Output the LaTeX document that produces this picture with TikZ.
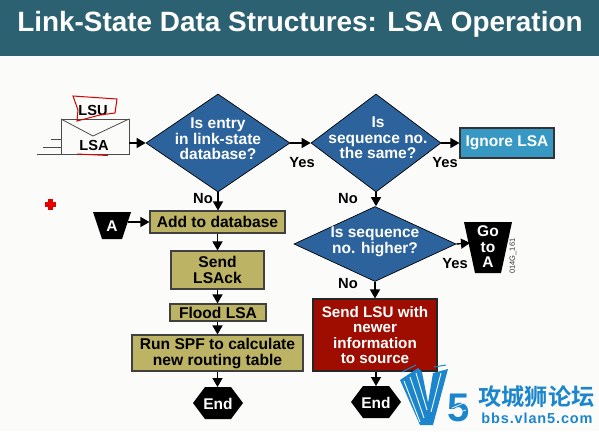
\documentclass[tikz,border=0pt]{standalone}
\usepackage{fontspec}
\setmainfont{Liberation Sans}
\newfontfamily\cjk{Noto Sans CJK SC}[BoldFont=* Bold]
\usetikzlibrary{shapes.geometric,arrows.meta}
\definecolor{bluefill}{HTML}{2D639C}
\definecolor{oliv}{HTML}{BDB364}
\definecolor{wm}{HTML}{1C86CC}
\definecolor{pagebg}{HTML}{FBFBFA}
\definecolor{hdr}{HTML}{2C6172}
\definecolor{ignc}{HTML}{3798C4}
\definecolor{redc}{HTML}{9E0D00}
\tikzset{
 x=1pt,y=-1pt,
 flow/.style={-{Triangle[length=9pt,width=10pt]},line width=1.4pt,draw=black},
 ques/.style={diamond,draw=black,line width=.7pt,fill=bluefill,inner sep=0pt},
 qtext/.style={text=white,font=\fontsize{15.5}{15.5}\selectfont\bfseries,align=center},
 oilbox/.style={rectangle,draw=black!75,line width=1.1pt,fill=oliv,inner sep=0pt,font=\fontsize{15.6}{16}\selectfont\bfseries,align=center,text=black},
 lab/.style={font=\fontsize{14.7}{15}\selectfont\bfseries,text=black,inner sep=0pt},
 hexa/.style={fill=black},
 wht/.style={text=white,font=\fontsize{15.5}{15.5}\selectfont\bfseries,align=center,inner sep=0pt},
 stripe/.style={draw=pagebg,line width=.9pt},
}
\begin{document}
\begin{tikzpicture}
\useasboundingbox (0,0) rectangle (599,431);
\fill[pagebg] (0,0) rectangle (599,431);
\fill[hdr] (0,0) rectangle (599,56);
\node[text=white,font=\fontsize{27.9}{30}\selectfont\bfseries,inner sep=0pt] (title) at (300,24) {Link-State Data Structures: LSA Operation};
% envelope
\draw[line width=.8pt,draw=black!70] (61,119) rectangle (129,154);
\draw[line width=.8pt,draw=black!70] (61,119) -- (93,136) -- (129,119);
\coordinate (envR) at (129,143);
\coordinate (s1) at (51,139); \coordinate (e1) at (61,139);
\coordinate (s2) at (43,147); \coordinate (e2) at (61,147);
\coordinate (s3) at (37,154); \coordinate (e3) at (61,154);
\draw[line width=.8pt,draw=black!70] (s1)--(e1) (s2)--(e2) (s3)--(e3);
\node[lab,font=\fontsize{14.6}{15}\selectfont\bfseries] (lsu) at (93,110) {LSU};
\node[lab,font=\fontsize{14.6}{15}\selectfont\bfseries] (lsa) at (94,145) {LSA};
\draw[red!85!black,line width=1pt] (73,96) -- (117,99) -- (115,113) -- (100,115) -- (77,121) -- (78,110) -- cycle;
\draw[red!85!black,line width=1pt] (77,154) -- (108,155.5);
% red cross
\draw[red!90!black,line width=5pt] (44.5,204) -- (55.5,204) (50,198.5) -- (50,209.5);
% diamonds
\node[ques,minimum width=144pt,minimum height=98pt,aspect=1.469] (d1) at (218,143) {};
\node[qtext] (d1t) at (218,139) {Is entry\\in link-state\\database?};
\node[ques,minimum width=130pt,minimum height=98pt,aspect=1.327] (d2) at (376,143) {};
\node[qtext] (d2t) at (378,138) {Is\\sequence no.\\the same?};
\node[ques,minimum width=162pt,minimum height=75pt,aspect=2.16] (d3) at (375,244) {};
\node[qtext] (d3t) at (375,242) {Is sequence\\no. higher?};
% boxes
\node[rectangle,draw=black!80,line width=1.1pt,fill=ignc,minimum width=94pt,minimum height=30pt,inner sep=0pt,qtext] (ign) at (507,143) {Ignore LSA};
\node[oilbox,minimum width=135pt,minimum height=22pt] (add) at (217.5,222) {Add to database};
\node[oilbox,minimum width=93pt,minimum height=38pt] (ack) at (217.5,270) {Send\\LSAck};
\node[oilbox,minimum width=96pt,minimum height=17pt] (fld) at (218,312.5) {Flood LSA};
\node[oilbox,minimum width=171pt,minimum height=36pt] (run) at (217.5,353) {Run SPF to calculate\\new routing table};
\node[rectangle,draw=black!85,line width=1.1pt,fill=redc,minimum width=124pt,minimum height=72pt,inner sep=0pt,qtext,font=\fontsize{15.2}{15.6}\selectfont\bfseries] (snd) at (375,335) {Send LSU with\\newer\\information\\to source};
% trapezoids
\fill[black] (93,212) -- (131,212) -- (122,239) -- (102,239) -- cycle;
\node[wht] (ta) at (112,226) {A};
\coordinate (taR) at (128,222);
\fill[black] (464,222) -- (512,222) -- (501,273) -- (475,273) -- cycle;
\node[wht] (go) at (488,247) {Go\\to\\A};
\coordinate (goL) at (470,243);
% end hexagons
\fill[hexa] (193,403) -- (205,387) -- (231,387) -- (243,403) -- (231,419) -- (205,419) -- cycle;
\node[wht] (e1t) at (218,404) {End};
\coordinate (e1top) at (218,387);
\fill[hexa] (351,402) -- (363,386) -- (389,386) -- (401,402) -- (389,418) -- (363,418) -- cycle;
\node[wht] (e2t) at (376,403) {End};
\coordinate (e2top) at (376,386);
% connectors
\draw[flow] (envR) -- (d1.west);
\draw[flow] (d1.east) -- (d2.west);
\draw[flow] (d2.east) -- (ign.west);
\draw[flow] (d2.south) -- (d3.north -| d2.south);
\draw[flow] (d3.east) -- (goL);
\draw[flow] (d3.south) -- (snd.north);
\draw[flow] (snd.south -| e2top) -- (e2top);
\draw[flow] (d1.south) -- (add.north -| d1.south);
\draw[flow] (add.south) -- (ack.north);
\draw[flow] (ack.south) -- (fld.north -| ack.south);
\draw[flow] (fld.south -| ack.south) -- (run.north);
\draw[flow] (run.south) -- (e1top -| run.south);
\draw[flow] (taR) -- (add.west);
% labels
\node[lab] (y1) at (302,163) {Yes};
\node[lab] (y2) at (445,163) {Yes};
\node[lab] (y3) at (455,264) {Yes};
\node[lab] (n1) at (203,199) {No};
\node[lab] (n2) at (348,199) {No};
\node[lab] (n3) at (348,284) {No};
\node[rotate=90,font=\fontsize{7.5}{8}\selectfont,inner sep=0pt,text=black!80] (code) at (513,256) {014G\_161};
% watermark
\fill[wm] (400,380) -- (418,368) -- (422,372) -- (428,403) -- (433,373) -- (448,369) -- (433,425) -- (420,425) -- cycle;
\draw[stripe] (404,381) -- (420,422) (410,377) -- (424,418) (416,373) -- (427,410) (441,373) -- (431,412);
\draw[wm,line width=1pt] (402,372) -- (416,365) (434,367) -- (446,365);
\node[text=wm,font=\fontsize{40}{40}\selectfont\bfseries,inner sep=0pt] (five) at (459,408) {5};
\draw[stripe,line width=.7pt] (452,408) -- (466,402) (453,414) -- (466,410);
\node[text=wm,font=\cjk\bfseries\fontsize{23.2}{24}\selectfont,inner sep=0pt] (wmc) at (536.5,397) {攻城狮论坛};
\node[text=wm,font=\fontsize{14.5}{15}\selectfont\bfseries\addfontfeature{LetterSpace=6},inner sep=0pt] (wmu) at (537,418) {bbs.vlan5.com};
\end{tikzpicture}
\end{document}
